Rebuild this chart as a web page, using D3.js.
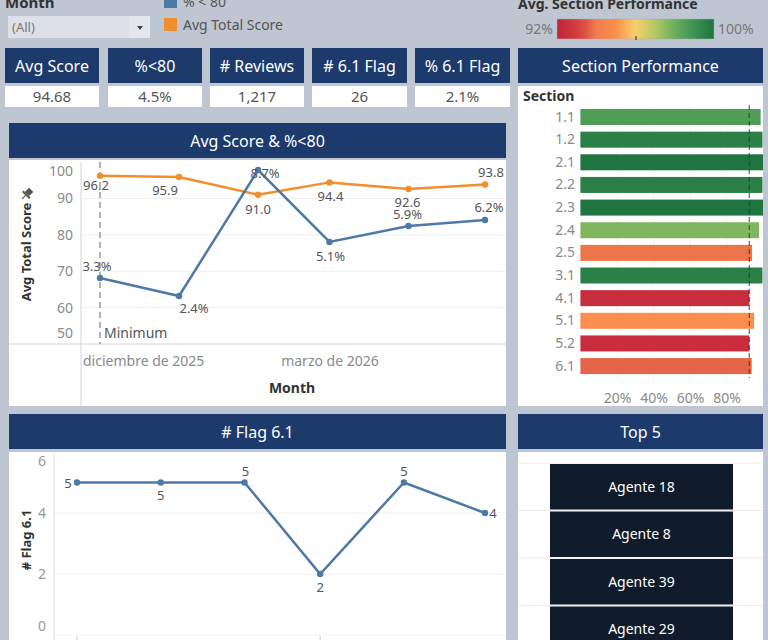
<!DOCTYPE html>
<meta charset="utf-8">
<style>
  body { margin: 0; background: #bec6d1; }
  svg { display: block; font-family: "Noto Sans", sans-serif; }
</style>
<body>
<script src="https://cdn.jsdelivr.net/npm/d3@7"></script>
<script>

    var width = 768,
        height = 640;

    // data
    var months = ["2025-12-01", "2026-01-01", "2026-02-01", "2026-03-01", "2026-04-01", "2026-05-01"];
    var avgScore = [96.2, 95.9, 91.0, 94.4, 92.6, 93.8];
    var pctUnder80 = [3.3, 2.4, 8.7, 5.1, 5.9, 6.2];
    var flag61 = [5, 5, 5, 2, 5, 4];
    var monthTicks = ["2025-12-01", "2026-03-01"];
    var esMonths = ["enero", "febrero", "marzo", "abril", "mayo", "junio", "julio",
                    "agosto", "septiembre", "octubre", "noviembre", "diciembre"];

    var kpiNames = ["Avg Score", "%<80", "# Reviews", "# 6.1 Flag", "% 6.1 Flag"];
    var kpiValues = ["94.68", "4.5%", "1,217", "26", "2.1%"];

    var sections = ["1.1", "1.2", "2.1", "2.2", "2.3", "2.4", "2.5", "3.1", "4.1", "5.1", "5.2", "6.1"];
    var sectionPerf = [98.6, 99.6, 100, 99.6, 100, 97.7, 93.9, 99.6, 92.4, 95.0, 92.4, 93.7];
    var sectionRef = 92.4;
    var sectionTicks = [20, 40, 60, 80];

    var topAgents = ["Agente 18", "Agente 8", "Agente 39", "Agente 29"];

    var scoreTicks = [50, 60, 70, 80, 90, 100];
    var flagTicks = [0, 2, 4, 6];

    // label placement (dx, dy from the point)
    var scoreLabelPos = [[-4, 14], [-14, 18], [0, 19], [1, 19], [-1, 18], [6, -8]];
    var pctLabelPos = [[-3, -7], [15, 17], [7, 8], [1, 19], [-1, -7], [4, -8]];
    var flagLabelPos = [[-9, 5], [0, 17], [1, -7], [0, 18], [0, -7], [8, 5]];

    var navy = "#1c3a6b",
        blue = "#4e79a7",
        orange = "#f28e2b",
        labelGrey = "#8a8a8a",
        textDark = "#333";

    var parse = d3.timeParse("%Y-%m-%d");
    var dates = months.map(parse);
    var esFormat = function(d) { return esMonths[d.getMonth()] + " de " + d.getFullYear(); };

    var svg = d3.select("body").append("svg")
            .attr("width", width)
            .attr("height", height);

    svg.append("rect").attr("width", width).attr("height", height).attr("fill", "#bec6d1");

    function header(x, y, w, h, label) {
        svg.append("rect").attr("x", x).attr("y", y).attr("width", w).attr("height", h).attr("fill", navy);
        svg.append("text").attr("x", x + w / 2).attr("y", y + h / 2 + 6)
            .attr("text-anchor", "middle").attr("fill", "#fff").attr("font-size", 16)
            .text(label);
    }
    function panel(x, y, w, h) {
        svg.append("rect").attr("x", x).attr("y", y).attr("width", w).attr("height", h).attr("fill", "#fff");
    }

    // ---------- filter + legend ----------
    svg.append("text").attr("x", 5).attr("y", 8).attr("font-size", 15).attr("font-weight", "bold")
        .attr("fill", textDark).text("Month");
    svg.append("rect").attr("x", 8).attr("y", 16).attr("width", 142).attr("height", 22).attr("fill", "#dde1e7");
    svg.append("rect").attr("x", 129).attr("y", 16).attr("width", 21).attr("height", 22).attr("fill", "#e3e6eb");
    svg.append("text").attr("x", 12).attr("y", 32).attr("font-size", 13).attr("fill", "#777").text("(All)");
    svg.append("path").attr("d", "M137,26 L143,26 L140,30 Z").attr("fill", "#444");

    svg.append("rect").attr("x", 164).attr("y", -5).attr("width", 13).attr("height", 13).attr("fill", blue);
    svg.append("text").attr("x", 183).attr("y", 7).attr("font-size", 14).attr("fill", "#555").text("% < 80");
    svg.append("rect").attr("x", 164).attr("y", 18).attr("width", 13).attr("height", 13).attr("fill", orange);
    svg.append("text").attr("x", 183).attr("y", 30).attr("font-size", 14).attr("fill", "#555").text("Avg Total Score");

    // ---------- colour legend ----------
    var colorStops = [92, 93, 93.5, 94, 95, 96, 97, 98, 99, 100];
    var colorRange = ["#c0223b", "#d33d3f", "#e05546", "#ef7d4b", "#fb8e4c", "#f8cf6b",
                      "#b3c862", "#6aaf5d", "#3d9152", "#1f7440"];
    var color = d3.scaleLinear().domain(colorStops).range(colorRange).clamp(true);

    svg.append("text").attr("x", 518).attr("y", 9).attr("font-size", 14).attr("font-weight", "bold")
        .attr("fill", textDark).text("Avg. Section Performance");

    var grad = svg.append("defs").append("linearGradient").attr("id", "perfGrad");
    grad.selectAll("stop").data(colorStops).enter().append("stop")
        .attr("offset", function(d) { return ((d - 92) / 8 * 100) + "%"; })
        .attr("stop-color", function(d) { return color(d); });
    svg.append("rect").attr("x", 557).attr("y", 19).attr("width", 157).attr("height", 20)
        .attr("fill", "url(#perfGrad)").attr("stroke", "#aab").attr("stroke-width", 0.5);
    svg.append("line").attr("x1", 636).attr("x2", 636).attr("y1", 36).attr("y2", 40).attr("stroke", "#222");
    svg.append("text").attr("x", 553).attr("y", 34).attr("text-anchor", "end").attr("font-size", 14)
        .attr("fill", "#777").text("92%");
    svg.append("text").attr("x", 718).attr("y", 34).attr("font-size", 14).attr("fill", "#777").text("100%");

    // ---------- KPI tiles ----------
    var kpiX = [5, 108, 210, 312, 415],
        kpiW = [94, 94, 94, 95, 95];
    kpiNames.forEach(function(name, i) {
        header(kpiX[i], 48, kpiW[i], 35, name);
        panel(kpiX[i], 86, kpiW[i], 21);
        svg.append("text").attr("x", kpiX[i] + kpiW[i] / 2).attr("y", 102)
            .attr("text-anchor", "middle").attr("font-size", 15).attr("fill", "#555")
            .text(kpiValues[i]);
    });

    // ---------- Avg Score & %<80 ----------
    header(9, 123, 497, 35, "Avg Score & %<80");
    panel(9, 160, 497, 246);

    var x1 = d3.scaleTime().domain([dates[0], dates[5]]).range([100, 485]);
    var yScore = d3.scaleLinear().domain([50, 100]).range([344, 162]);
    var yPct = d3.scaleLinear().domain([0, 9.1]).range([344, 162]);

    var g1 = svg.append("g");
    g1.selectAll(".grid").data([60, 70, 80, 90]).enter().append("line")
        .attr("x1", 81).attr("x2", 506)
        .attr("y1", function(d) { return yScore(d); }).attr("y2", function(d) { return yScore(d); })
        .attr("stroke", "#efefef");
    g1.append("line").attr("x1", 9).attr("x2", 506).attr("y1", 344).attr("y2", 344).attr("stroke", "#d4d4d4");
    g1.append("line").attr("x1", 81).attr("x2", 81).attr("y1", 162).attr("y2", 406).attr("stroke", "#d4d4d4");

    var yAxis1 = g1.append("g").attr("transform", "translate(81,0)")
        .call(d3.axisLeft(yScore).tickValues(scoreTicks).tickSize(0).tickPadding(8));
    yAxis1.select(".domain").remove();
    yAxis1.selectAll("text").attr("font-size", 14).attr("fill", labelGrey).attr("font-family", "Noto Sans")
        .attr("dy", function(d) { return d === 100 ? "0.95em" : d === 50 ? "-0.45em" : "0.32em"; });

    var xAxis1 = g1.append("g").attr("transform", "translate(0,344)")
        .call(d3.axisBottom(x1).tickValues(monthTicks.map(parse)).tickFormat(esFormat).tickSize(0).tickPadding(12));
    xAxis1.select(".domain").remove();
    xAxis1.selectAll("text").attr("font-size", 14).attr("fill", labelGrey).attr("font-family", "Noto Sans")
        .each(function() {
            var b = this.getBBox();
            var px = this.parentNode.transform.baseVal.consolidate().matrix.e;
            if (px + b.x < 82) d3.select(this).attr("text-anchor", "start").attr("x", 83 - px);
        });

    g1.append("text").attr("x", 292).attr("y", 393).attr("text-anchor", "middle")
        .attr("font-size", 14).attr("font-weight", "bold").attr("fill", textDark).text("Month");
    g1.append("text").attr("transform", "translate(31,252) rotate(-90)").attr("text-anchor", "middle")
        .attr("font-size", 13).attr("font-weight", "bold").attr("fill", textDark).text("Avg Total Score");
    // pin icon
    g1.append("g").attr("transform", "translate(27,194) rotate(45)")
        .call(function(p) {
            p.append("rect").attr("x", -3).attr("y", -6).attr("width", 6).attr("height", 6).attr("fill", "#555");
            p.append("rect").attr("x", -5).attr("y", 0).attr("width", 10).attr("height", 2).attr("fill", "#555");
            p.append("line").attr("x1", 0).attr("x2", 0).attr("y1", 2).attr("y2", 7).attr("stroke", "#555").attr("stroke-width", 1.2);
        });

    // minimum reference line
    g1.append("line").attr("x1", x1(dates[0])).attr("x2", x1(dates[0])).attr("y1", 162).attr("y2", 344)
        .attr("stroke", "#999").attr("stroke-width", 1.5).attr("stroke-dasharray", "6,4");
    g1.append("text").attr("x", x1(dates[0]) + 4).attr("y", 338).attr("font-size", 14).attr("fill", "#555").text("Minimum");

    var scoreLine = d3.line().x(function(d, i) { return x1(dates[i]); }).y(function(d) { return yScore(d); });
    var pctLine = d3.line().x(function(d, i) { return x1(dates[i]); }).y(function(d) { return yPct(d); });

    g1.append("path").attr("d", scoreLine(avgScore)).attr("fill", "none").attr("stroke", orange).attr("stroke-width", 2.5);
    g1.append("path").attr("d", pctLine(pctUnder80)).attr("fill", "none").attr("stroke", blue).attr("stroke-width", 2.5);

    g1.selectAll(".sp").data(avgScore).enter().append("circle")
        .attr("cx", function(d, i) { return x1(dates[i]); }).attr("cy", function(d) { return yScore(d); })
        .attr("r", 3.2).attr("fill", orange);
    g1.selectAll(".pp").data(pctUnder80).enter().append("circle")
        .attr("cx", function(d, i) { return x1(dates[i]); }).attr("cy", function(d) { return yPct(d); })
        .attr("r", 3.2).attr("fill", blue);

    g1.selectAll(".sl").data(avgScore).enter().append("text")
        .attr("x", function(d, i) { return x1(dates[i]) + scoreLabelPos[i][0]; })
        .attr("y", function(d, i) { return yScore(d) + scoreLabelPos[i][1]; })
        .attr("text-anchor", "middle").attr("font-size", 13).attr("fill", "#555")
        .text(function(d) { return d3.format(".1f")(d); });
    g1.selectAll(".pl").data(pctUnder80).enter().append("text")
        .attr("x", function(d, i) { return x1(dates[i]) + pctLabelPos[i][0]; })
        .attr("y", function(d, i) { return yPct(d) + pctLabelPos[i][1]; })
        .attr("text-anchor", "middle").attr("font-size", 13).attr("fill", "#555")
        .text(function(d) { return d3.format(".1f")(d) + "%"; });

    // ---------- Section Performance ----------
    header(518, 48, 245, 35, "Section Performance");
    panel(518, 86, 245, 320);

    var xSec = d3.scaleLinear().domain([0, 100]).range([580.4, 763.2]);
    var ySec = d3.scaleBand().domain(sections).range([105.7, 377.4]).paddingInner(0.293).paddingOuter(0.1465);

    svg.append("clipPath").attr("id", "secClip").append("rect")
        .attr("x", 518).attr("y", 86).attr("width", 245).attr("height", 320);
    var g2 = svg.append("g").attr("clip-path", "url(#secClip)");

    g2.append("text").attr("x", 523).attr("y", 101).attr("font-size", 14).attr("font-weight", "bold")
        .attr("fill", textDark).text("Section");

    g2.selectAll(".sg").data(sectionTicks).enter().append("line")
        .attr("x1", function(d) { return xSec(d); }).attr("x2", function(d) { return xSec(d); })
        .attr("y1", 105).attr("y2", 380).attr("stroke", "#f2f2f2");

    g2.selectAll(".bar").data(sectionPerf).enter().append("rect")
        .attr("x", xSec(0))
        .attr("y", function(d, i) { return ySec(sections[i]); })
        .attr("width", function(d) { return xSec(d) - xSec(0); })
        .attr("height", ySec.bandwidth())
        .attr("fill", function(d) { return color(d); });

    var yAxis2 = g2.append("g").attr("transform", "translate(580,0)")
        .call(d3.axisLeft(ySec).tickSize(0).tickPadding(5));
    yAxis2.select(".domain").remove();
    yAxis2.selectAll("text").attr("font-size", 14).attr("fill", labelGrey).attr("font-family", "Noto Sans");

    var xAxis2 = g2.append("g").attr("transform", "translate(0,380)")
        .call(d3.axisBottom(xSec).tickValues(sectionTicks).tickFormat(function(d) { return d + "%"; })
              .tickSize(0).tickPadding(13));
    xAxis2.select(".domain").remove();
    xAxis2.selectAll("text").attr("font-size", 14).attr("fill", labelGrey).attr("font-family", "Noto Sans");

    g2.append("line").attr("x1", xSec(sectionRef)).attr("x2", xSec(sectionRef)).attr("y1", 105).attr("y2", 378)
        .attr("stroke", "#333").attr("stroke-opacity", 0.7).attr("stroke-width", 1.3).attr("stroke-dasharray", "5,3");

    // ---------- # Flag 6.1 ----------
    header(9, 414, 497, 35, "# Flag 6.1");
    panel(9, 452, 497, 200);

    var x3 = d3.scaleTime().domain([dates[0], dates[5]]).range([77, 485]);
    var yFlag = d3.scaleLinear().domain([0, 6]).range([635, 452]);

    var g3 = svg.append("g");
    g3.selectAll(".fg").data([2, 4]).enter().append("line")
        .attr("x1", 54).attr("x2", 506)
        .attr("y1", function(d) { return yFlag(d); }).attr("y2", function(d) { return yFlag(d); })
        .attr("stroke", "#efefef");
    g3.append("line").attr("x1", 54).attr("x2", 506).attr("y1", 635).attr("y2", 635).attr("stroke", "#efefef");
    g3.append("line").attr("x1", 54).attr("x2", 54).attr("y1", 452).attr("y2", 640).attr("stroke", "#e0e0e0");
    monthTicks.map(parse).forEach(function(d) {
        g3.append("line").attr("x1", x3(d)).attr("x2", x3(d)).attr("y1", 636).attr("y2", 640).attr("stroke", "#ccc");
    });

    var yAxis3 = g3.append("g").attr("transform", "translate(54,0)")
        .call(d3.axisLeft(yFlag).tickValues(flagTicks).tickFormat(d3.format("d")).tickSize(0).tickPadding(8));
    yAxis3.select(".domain").remove();
    yAxis3.selectAll("text").attr("font-size", 14).attr("fill", "#999").attr("font-family", "Noto Sans")
        .attr("dy", function(d) { return d === 6 ? "0.95em" : d === 0 ? "-0.3em" : "0.32em"; });

    g3.append("text").attr("transform", "translate(31,540) rotate(-90)").attr("text-anchor", "middle")
        .attr("font-size", 13).attr("font-weight", "bold").attr("fill", textDark).text("# Flag 6.1");

    var flagLine = d3.line().x(function(d, i) { return x3(dates[i]); }).y(function(d) { return yFlag(d); });
    g3.append("path").attr("d", flagLine(flag61)).attr("fill", "none").attr("stroke", blue).attr("stroke-width", 2.5);
    g3.selectAll(".fp").data(flag61).enter().append("circle")
        .attr("cx", function(d, i) { return x3(dates[i]); }).attr("cy", function(d) { return yFlag(d); })
        .attr("r", 3.2).attr("fill", blue);
    g3.selectAll(".fl").data(flag61).enter().append("text")
        .attr("x", function(d, i) { return x3(dates[i]) + flagLabelPos[i][0]; })
        .attr("y", function(d, i) { return yFlag(d) + flagLabelPos[i][1]; })
        .attr("text-anchor", "middle").attr("font-size", 13).attr("fill", "#555")
        .text(function(d) { return d; });

    // ---------- Top 5 ----------
    header(518, 414, 245, 35, "Top 5");
    panel(518, 452, 245, 200);

    var yTop = d3.scaleBand().domain(topAgents).range([463, 463 + 47.5 * topAgents.length]);
    var g4 = svg.append("g");
    g4.selectAll(".row").data(topAgents).enter().append("line")
        .attr("x1", 518).attr("x2", 763)
        .attr("y1", function(d) { return yTop(d); }).attr("y2", function(d) { return yTop(d); })
        .attr("stroke", "#ececec");
    g4.selectAll(".box").data(topAgents).enter().append("rect")
        .attr("x", 550).attr("width", 183)
        .attr("y", function(d) { return yTop(d) + 1; })
        .attr("height", yTop.bandwidth() - 2)
        .attr("fill", "#101b2b");
    g4.selectAll(".name").data(topAgents).enter().append("text")
        .attr("x", 641.5)
        .attr("y", function(d) { return yTop(d) + yTop.bandwidth() / 2 + 5; })
        .attr("text-anchor", "middle").attr("font-size", 14).attr("fill", "#fff")
        .text(function(d) { return d; });

</script>
